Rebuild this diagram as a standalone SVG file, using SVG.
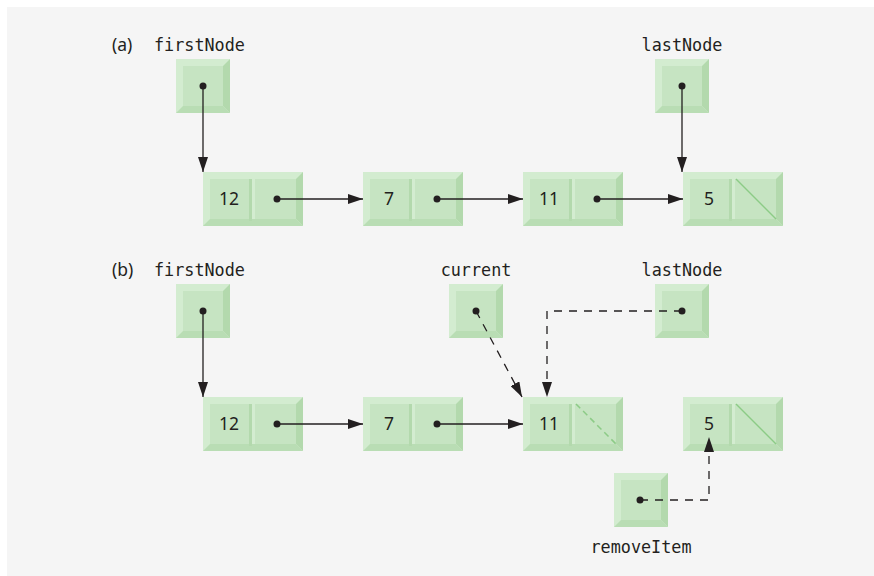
<svg xmlns="http://www.w3.org/2000/svg" xmlns:xlink="http://www.w3.org/1999/xlink" width="874" height="576" viewBox="0 0 874 576">
<style>
.lbl{font-family:"DejaVu Sans Mono","Liberation Mono",monospace;font-size:16.8px;fill:#231f20}
.tag{font-family:"Noto Sans","DejaVu Sans",sans-serif;font-size:17.5px;fill:#231f20}
.num{font-family:"Noto Sans","DejaVu Sans",sans-serif;font-size:17.5px;fill:#231f20;text-anchor:middle}
.ln{stroke:#231f20;stroke-width:1.3;fill:none}
.dash{stroke-dasharray:8,7}
.dot{fill:#231f20}
.nul{stroke:#8ccb86;stroke-width:1.5}
</style>
<defs>
<marker id="ah" markerUnits="userSpaceOnUse" markerWidth="16" markerHeight="10" refX="15" refY="5" orient="auto">
<path d="M0,0 L15,5 L0,10 z" fill="#231f20"/>
</marker>
<g id="pbox">
<rect width="54" height="54" fill="#d3ecd0"/>
<polygon points="54,0 54,54 47,47 47,7" fill="#b3d9ad"/>
<polygon points="0,54 54,54 47,47 7,47" fill="#b9ddb4"/>
<rect x="7" y="7" width="40" height="40" fill="#c6e4c2"/>
</g>
<g id="lnode">
<rect width="100" height="54" fill="#d3ecd0"/>
<polygon points="100,0 100,54 93,47 93,7" fill="#b3d9ad"/>
<polygon points="0,54 100,54 93,47 7,47" fill="#b9ddb4"/>
<rect x="7" y="7" width="39" height="40" fill="#c6e4c2"/>
<rect x="46" y="7" width="3" height="42" fill="#b3d9ad"/>
<rect x="52" y="7" width="41" height="40" fill="#c6e4c2"/>
</g>
</defs>
<rect x="7" y="7" width="867" height="569" fill="#f5f5f5"/>

<!-- (a) -->
<text class="tag" x="112" y="51">(a)</text>
<g id="a-firstNode">
<text class="lbl" x="154" y="51">firstNode</text>
<use xlink:href="#pbox" x="176" y="59"/>
</g>
<g id="a-lastNode">
<text class="lbl" x="682" y="51" text-anchor="middle">lastNode</text>
<use xlink:href="#pbox" x="655" y="59"/>
</g>
<g id="a-n12"><use xlink:href="#lnode" x="203" y="172"/><text class="num" x="229" y="205">12</text></g>
<g id="a-n7"><use xlink:href="#lnode" x="363" y="172"/><text class="num" x="389" y="205">7</text></g>
<g id="a-n11"><use xlink:href="#lnode" x="523" y="172"/><text class="num" x="549" y="205">11</text></g>
<g id="a-n5"><use xlink:href="#lnode" x="683" y="172"/><text class="num" x="709" y="205">5</text>
<line class="nul" x1="736" y1="179" x2="776" y2="219"/></g>

<!-- (b) -->
<text class="tag" x="112" y="276">(b)</text>
<g id="b-firstNode">
<text class="lbl" x="154" y="276">firstNode</text>
<use xlink:href="#pbox" x="176" y="284"/>
</g>
<g id="b-current">
<text class="lbl" x="476" y="276" text-anchor="middle">current</text>
<use xlink:href="#pbox" x="449" y="284"/>
</g>
<g id="b-lastNode">
<text class="lbl" x="682" y="276" text-anchor="middle">lastNode</text>
<use xlink:href="#pbox" x="655" y="284"/>
</g>
<g id="b-n12"><use xlink:href="#lnode" x="203" y="397"/><text class="num" x="229" y="430">12</text></g>
<g id="b-n7"><use xlink:href="#lnode" x="363" y="397"/><text class="num" x="389" y="430">7</text></g>
<g id="b-n11"><use xlink:href="#lnode" x="523" y="397"/><text class="num" x="549" y="430">11</text>
<line class="nul" x1="576" y1="404" x2="616" y2="444" stroke-dasharray="6,4"/></g>
<g id="b-n5"><use xlink:href="#lnode" x="683" y="397"/><text class="num" x="709" y="430">5</text>
<line class="nul" x1="736" y1="404" x2="776" y2="444"/></g>
<g id="b-removeItem">
<use xlink:href="#pbox" x="614" y="473"/>
<text class="lbl" x="641" y="553" text-anchor="middle">removeItem</text>
</g>

<g id="connectors">
<!-- (a) -->
<line class="ln" x1="203" y1="86" x2="203" y2="172" marker-end="url(#ah)"/>
<line class="ln" x1="682" y1="86" x2="682" y2="172" marker-end="url(#ah)"/>
<line class="ln" x1="277" y1="199" x2="363" y2="199" marker-end="url(#ah)"/>
<line class="ln" x1="437" y1="199" x2="523" y2="199" marker-end="url(#ah)"/>
<line class="ln" x1="597" y1="199" x2="683" y2="199" marker-end="url(#ah)"/>
<circle class="dot" cx="203" cy="86" r="3.5"/>
<circle class="dot" cx="682" cy="86" r="3.5"/>
<circle class="dot" cx="277" cy="199" r="3.5"/>
<circle class="dot" cx="437" cy="199" r="3.5"/>
<circle class="dot" cx="597" cy="199" r="3.5"/>
<!-- (b) -->
<line class="ln" x1="203" y1="311" x2="203" y2="397" marker-end="url(#ah)"/>
<line class="ln" x1="277" y1="424" x2="363" y2="424" marker-end="url(#ah)"/>
<line class="ln" x1="437" y1="424" x2="523" y2="424" marker-end="url(#ah)"/>
<line class="ln dash" x1="476" y1="311" x2="522" y2="397" marker-end="url(#ah)"/>
<polyline class="ln dash" points="682,311 547,311 547,397" marker-end="url(#ah)"/>
<polyline class="ln dash" points="640,500 709,500 709,437" marker-end="url(#ah)"/>
<circle class="dot" cx="203" cy="311" r="3.5"/>
<circle class="dot" cx="277" cy="424" r="3.5"/>
<circle class="dot" cx="437" cy="424" r="3.5"/>
<circle class="dot" cx="476" cy="311" r="3.5"/>
<circle class="dot" cx="682" cy="311" r="3.5"/>
<circle class="dot" cx="640" cy="500" r="3.5"/>
</g>
</svg>
